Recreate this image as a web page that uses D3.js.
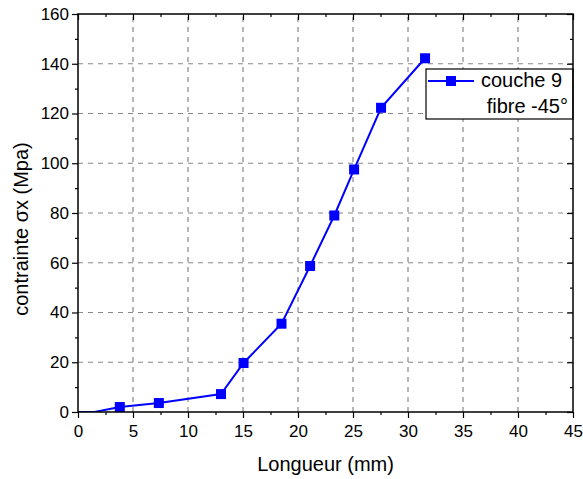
<!DOCTYPE html>
<html>
<head>
<meta charset="utf-8">
<script src="https://cdn.jsdelivr.net/npm/d3@7"></script>
<style>
  html, body { margin: 0; padding: 0; background: #fff; }
  svg { display: block; font-family: Arial, "Liberation Sans", sans-serif; }
</style>
</head>
<body>
<svg id="chart" width="583" height="479"></svg>
<script>
// Longueur (mm) vs contrainte σx (Mpa), couche 9, fibre -45°
const longueur = [0, 1.5, 3.8, 7.35, 13.0, 15.05, 18.5, 21.1, 23.3, 25.1, 27.55, 31.55];
const contrainte = [0, 0, 2.0, 3.6, 7.2, 19.7, 35.5, 58.7, 79.0, 97.5, 122.3, 142.2];
const xTicks = [0, 5, 10, 15, 20, 25, 30, 35, 40, 45];
const yTicks = [0, 20, 40, 60, 80, 100, 120, 140, 160];
const xMinor = d3.range(2.5, 45, 5);
const yMinor = d3.range(10, 160, 20);
const seriesName = ["couche 9", "fibre -45°"];

const svg = d3.select("#chart");
const m = { left: 78, right: 10, top: 14, bottom: 67 };
const W = 583, H = 479;

const x = d3.scaleLinear().domain([0, 45]).range([m.left, W - m.right]);
const y = d3.scaleLinear().domain([0, 160]).range([H - m.bottom, m.top]);
const x0 = x(0), x1 = x(45), y0 = y(0), y1 = y(160);

const blue = "#0000ff";

// dashed grid at major ticks
const grid = svg.append("g").attr("stroke", "#888").attr("stroke-width", 1.2)
  .attr("stroke-dasharray", "5,5");
grid.selectAll(".gx").data(xTicks.filter(v => v > 0 && v < 45)).join("line")
  .attr("x1", d => x(d)).attr("x2", d => x(d)).attr("y1", y0).attr("y2", y1);
grid.selectAll(".gy").data(yTicks.filter(v => v > 0 && v < 160)).join("line")
  .attr("x1", x0).attr("x2", x1).attr("y1", d => y(d)).attr("y2", d => y(d));

// data line and markers
svg.append("clipPath").attr("id", "plotclip").append("rect")
  .attr("x", x0).attr("y", y1).attr("width", x1 - x0).attr("height", y0 - y1);

const pts = longueur.map((v, i) => ({ x: v, y: contrainte[i] }));
svg.append("path").datum(pts)
  .attr("clip-path", "url(#plotclip)")
  .attr("fill", "none").attr("stroke", blue).attr("stroke-width", 2)
  .attr("d", d3.line().x(d => x(d.x)).y(d => y(d.y)));

const ms = 10;
svg.append("g").selectAll("rect").data(pts.filter(p => p.y > 0)).join("rect")
  .attr("x", d => x(d.x) - ms / 2).attr("y", d => y(d.y) - ms / 2)
  .attr("width", ms).attr("height", ms).attr("fill", blue);

// axes: bottom/left outward ticks, top/right inward ticks
const tickFont = 17;
function styleAxis(g) {
  g.select(".domain").remove();
  g.selectAll("line").attr("stroke", "#000").attr("stroke-width", 1.2);
  g.selectAll("text").attr("font-size", tickFont).attr("fill", "#000")
    .attr("font-family", "Arial, 'Liberation Sans', sans-serif");
}

svg.append("g").attr("transform", `translate(0,${y0})`)
  .call(d3.axisBottom(x).tickValues(xTicks).tickSize(6).tickPadding(7).tickFormat(d3.format("d")))
  .call(styleAxis);
svg.append("g").attr("transform", `translate(0,${y0})`)
  .call(d3.axisBottom(x).tickValues(xMinor).tickSize(3).tickFormat(""))
  .call(styleAxis);
svg.append("g").attr("transform", `translate(${x0},0)`)
  .call(d3.axisLeft(y).tickValues(yTicks).tickSize(6).tickPadding(3).tickFormat(d3.format("d")))
  .call(styleAxis);
svg.append("g").attr("transform", `translate(${x0},0)`)
  .call(d3.axisLeft(y).tickValues(yMinor).tickSize(3).tickFormat(""))
  .call(styleAxis);
svg.append("g").attr("transform", `translate(0,${y1})`)
  .call(d3.axisBottom(x).tickValues(xTicks).tickSize(6).tickFormat(""))
  .call(styleAxis);
svg.append("g").attr("transform", `translate(0,${y1})`)
  .call(d3.axisBottom(x).tickValues(xMinor).tickSize(3).tickFormat(""))
  .call(styleAxis);
svg.append("g").attr("transform", `translate(${x1},0)`)
  .call(d3.axisLeft(y).tickValues(yTicks).tickSize(6).tickFormat(""))
  .call(styleAxis);
svg.append("g").attr("transform", `translate(${x1},0)`)
  .call(d3.axisLeft(y).tickValues(yMinor).tickSize(3).tickFormat(""))
  .call(styleAxis);

// legend
const lg = svg.append("g");
lg.append("rect").attr("x", 426).attr("y", 69).attr("width", x1 - 426).attr("height", 50)
  .attr("fill", "#fff").attr("stroke", "#000").attr("stroke-width", 1.2);
lg.append("line").attr("x1", 428).attr("x2", 474).attr("y1", 81).attr("y2", 81)
  .attr("stroke", blue).attr("stroke-width", 2);
lg.append("rect").attr("x", 451 - ms / 2).attr("y", 81 - ms / 2).attr("width", ms).attr("height", ms)
  .attr("fill", blue);
lg.append("text").attr("x", 481).attr("y", 87).attr("font-size", 20).text(seriesName[0]);
lg.append("text").attr("x", 568).attr("y", 113).attr("font-size", 20)
  .attr("text-anchor", "end").text(seriesName[1]);

// frame
svg.append("rect").attr("x", x0).attr("y", y1).attr("width", x1 - x0).attr("height", y0 - y1)
  .attr("fill", "none").attr("stroke", "#000").attr("stroke-width", 1.5);

// axis titles
svg.append("text").attr("x", (x0 + x1) / 2).attr("y", 471).attr("text-anchor", "middle")
  .attr("font-size", 20).text("Longueur (mm)");
svg.append("text").attr("transform", `translate(28,${(y0 + y1) / 2 + 16}) rotate(-90)`)
  .attr("text-anchor", "middle").attr("font-size", 20).text("contrainte σx (Mpa)");
</script>
</body>
</html>
